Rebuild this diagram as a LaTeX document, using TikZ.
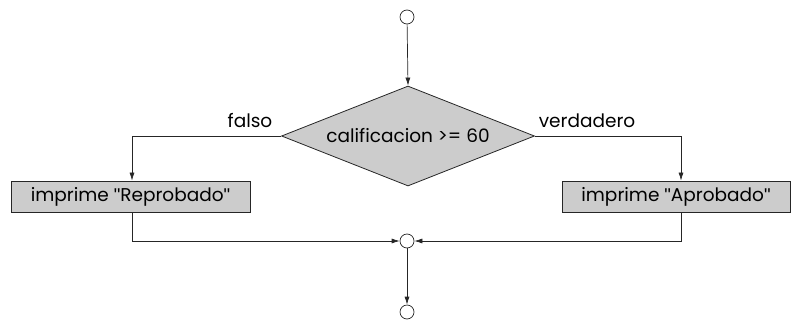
\documentclass[tikz,border=0pt]{standalone}
\usepackage{fontspec}
\setmainfont{Poppins}
\newfontfamily\qfont{Liberation Sans}
\newcommand{\sq}{{\qfont"}}
\usetikzlibrary{shapes.geometric,arrows.meta}
\begin{document}
\begin{tikzpicture}[x=1pt,y=-1pt,
  conn/.style={draw=black!85,line width=0.7pt},
  arr/.style={conn,-{Latex[length=8pt,width=5pt]}},
  dot/.style={circle,draw=black!85,line width=0.7pt,fill=white,minimum size=14pt,inner sep=0pt},
  actbox/.style={rectangle,draw=black!85,line width=0.8pt,fill=black!20,minimum height=31pt,inner sep=0pt,font=\fontsize{18.5}{20}\selectfont},
  decis/.style={diamond,draw=black!85,line width=0.8pt,fill=black!20,minimum width=253pt,minimum height=100pt,inner sep=0pt,font=\fontsize{18.5}{20}\selectfont},
  lbl/.style={font=\fontsize{18.5}{20}\selectfont,inner sep=0pt}]
\useasboundingbox (0,0) rectangle (791,329);
\node[dot] (start) at (407,17) {};
\node[decis] (dec) at (408,136) {};
\node[font=\fontsize{18.5}{20}\selectfont,inner sep=0pt] (dect) at (408,136) {calificacion >= 60};
\node[actbox,minimum width=239pt] (rep) at (130.5,196.5) {imprime \sq Reprobado\sq};
\node[actbox,minimum width=228pt] (apr) at (676,196.5) {imprime \sq Aprobado\sq};
\node[dot] (merge) at (407,241) {};
\node[dot] (stop) at (407,312) {};
\coordinate (lc) at (132,136);
\coordinate (rc) at (681,136);
\coordinate (lb) at (132,241);
\coordinate (rb) at (681,241);
\node[lbl,anchor=south] (falso) at (250,128) {falso};
\node[lbl,anchor=south] (verd) at (587,128) {verdadero};
\draw[arr] (start) -- (dec.north);
\draw[arr] (dec.west) -- (lc) -- (rep.north -| lc);
\draw[arr] (dec.east) -- (rc) -- (apr.north -| rc);
\draw[arr] (rep.south -| lb) -- (lb) -- (merge);
\draw[arr] (apr.south -| rb) -- (rb) -- (merge);
\draw[arr] (merge) -- (stop);
\end{tikzpicture}
\end{document}
